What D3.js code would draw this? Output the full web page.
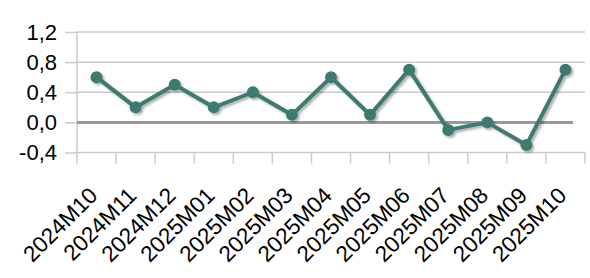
<!DOCTYPE html>
<meta charset="utf-8">
<script src="https://d3js.org/d3.v7.min.js"></script>
<style>
  body { margin: 0; background: #fff; }
  text { font-family: "Liberation Sans", Arial, sans-serif; }
</style>
<svg id="chart" width="590" height="278"></svg>
<script>

// data
var months = ["2024M10", "2024M11", "2024M12", "2025M01", "2025M02", "2025M03", "2025M04",
              "2025M05", "2025M06", "2025M07", "2025M08", "2025M09", "2025M10"];
var values = [0.6, 0.2, 0.5, 0.2, 0.4, 0.1, 0.6, 0.1, 0.7, -0.1, 0.0, -0.3, 0.7];
var yTicks = [-0.4, 0.0, 0.4, 0.8, 1.2];

var svg = d3.select("#chart");
var mLeft = 77, mRight = 585, mTop = 32, mBottom = 152.5;

var x = d3.scaleBand().domain(months).range([mLeft, mRight]);
var y = d3.scaleLinear().domain([-0.4, 1.2]).range([mBottom, mTop]);

var fmt = function(d){ return d3.format(".1f")(d).replace(".", ",").replace("−", "-"); };

// shadow for the line and markers
var defs = svg.append("defs");
var f = defs.append("filter").attr("id", "shadow").attr("x", "-20%").attr("y", "-20%")
  .attr("width", "140%").attr("height", "140%");
f.append("feDropShadow").attr("dx", 2).attr("dy", 2).attr("stdDeviation", 1.3)
  .attr("flood-color", "#000").attr("flood-opacity", 0.3);

// gridlines
svg.append("g")
  .selectAll("line")
  .data(yTicks.filter(function(d){ return d !== 0; }))
  .enter().append("line")
    .attr("x1", mLeft).attr("x2", mRight)
    .attr("y1", function(d){ return y(d); })
    .attr("y2", function(d){ return y(d); })
    .attr("stroke", "#cbcbcb").attr("stroke-width", 1.5);

// y axis
var yAxis = svg.append("g")
  .attr("transform", "translate(" + mLeft + ",0)")
  .call(d3.axisLeft(y).tickValues(yTicks).tickFormat(fmt).tickSize(12).tickPadding(8));
yAxis.select(".domain").remove();
yAxis.append("line").attr("x1", 0).attr("x2", 0)
  .attr("y1", mTop).attr("y2", mBottom + 11)
  .attr("stroke", "#cbcbcb").attr("stroke-width", 1.5);
yAxis.selectAll(".tick line").attr("stroke", "#cbcbcb").attr("stroke-width", 1.5);
yAxis.selectAll(".tick text").attr("fill", "#000").style("font-size", "22px")
  .attr("font-family", "'Liberation Sans', Arial, sans-serif").attr("dy", "0.34em");

// x axis ticks
var xAxis = svg.append("g")
  .attr("transform", "translate(0," + mBottom + ")");
xAxis.selectAll("line")
  .data(months)
  .enter().append("line")
    .attr("x1", function(d){ return x(d) + x.step(); })
    .attr("x2", function(d){ return x(d) + x.step(); })
    .attr("y1", 0).attr("y2", 11)
    .attr("stroke", "#cbcbcb").attr("stroke-width", 1.5);

xAxis.selectAll("text")
  .data(months)
  .enter().append("text")
    .attr("transform", function(d){ return "translate(" + (x(d) + x.bandwidth() / 2 - 9) + ",33) rotate(-45)"; })
    .attr("text-anchor", "end")
    .attr("dy", "0.71em")
    .style("font-size", "22.5px")
    .attr("fill", "#000")
    .text(function(d){ return d; });

// zero line
svg.append("line")
  .attr("x1", mLeft).attr("x2", 573)
  .attr("y1", y(0)).attr("y2", y(0))
  .attr("stroke", "#999").attr("stroke-width", 3);

// line + markers
var cx = function(d, i){ return x(months[i]) + x.bandwidth() / 2; };
var g = svg.append("g").attr("filter", "url(#shadow)");
g.append("path")
  .datum(values)
  .attr("fill", "none")
  .attr("stroke", "#3e7a70")
  .attr("stroke-width", 4)
  .attr("stroke-linejoin", "round")
  .attr("d", d3.line().x(cx).y(function(d){ return y(d); }));
g.selectAll("circle")
  .data(values)
  .enter().append("circle")
    .attr("cx", cx)
    .attr("cy", function(d){ return y(d); })
    .attr("r", 6)
    .attr("fill", "#3e7a70");

</script>
